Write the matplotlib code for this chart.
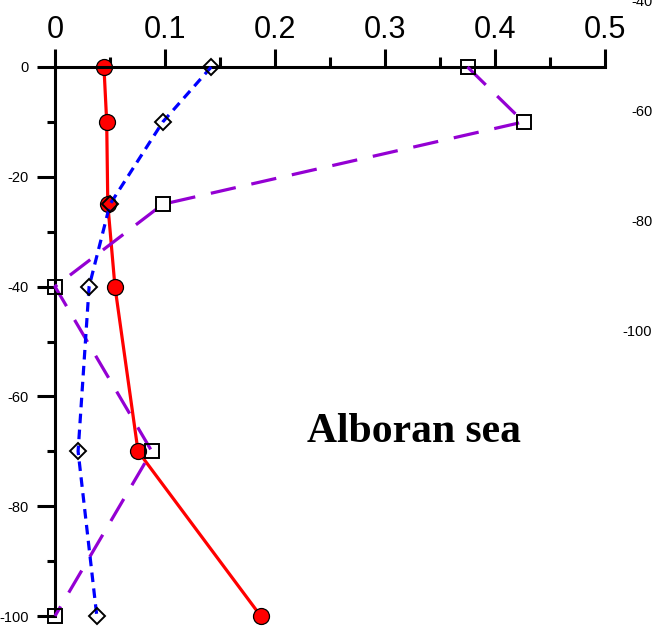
#!/usr/bin/env python3
"""Depth profiles for the Alboran sea station."""

import matplotlib

matplotlib.use("Agg")
import matplotlib.pyplot as plt
from matplotlib.ticker import MultipleLocator

plt.rcParams["font.family"] = ["Liberation Sans", "DejaVu Sans"]
plt.rcParams["axes.unicode_minus"] = False

DEPTH = [0, -10, -25, -40, -70, -100]
RED_VALUES = [0.0445, 0.047, 0.048, 0.0545, 0.0755, 0.187]
BLUE_VALUES = [0.142, 0.098, 0.050, 0.031, 0.021, 0.038]
PURPLE_VALUES = [0.375, 0.426, 0.098, 0.0, 0.088, 0.0]

X_TICKS = [0, 0.1, 0.2, 0.3, 0.4, 0.5]
X_LABELS = ["0", "0.1", "0.2", "0.3", "0.4", "0.5"]
Y_TICKS = [0, -20, -40, -60, -80, -100]
RIGHT_TICKS = [-40, -60, -80, -100]

W, H = 658, 628


def main() -> None:
    fig = plt.figure(figsize=(W / 100, H / 100), dpi=100)
    ax = fig.add_axes([55 / W, 1 - 616 / H, 550 / W, 549 / H])

    lw = 2.3
    ax.plot(PURPLE_VALUES, DEPTH, color="#9400d3", lw=lw, dashes=(8, 5),
            marker="s", ms=10, mfc="none", mec="black", mew=1.4, clip_on=False, zorder=3)
    ax.plot(BLUE_VALUES, DEPTH, color="#0000ff", lw=lw, dashes=(3, 2),
            marker="D", ms=8.5, mfc="none", mec="black", mew=1.4, clip_on=False, zorder=4)
    ax.plot(RED_VALUES, DEPTH, color="#ff0000", lw=lw, marker="o", ms=11.5,
            mfc="#ff0000", mec="black", mew=0.9, clip_on=False, zorder=2)

    ax.set_xlim(0, 0.5)
    ax.set_ylim(-100, 0)
    for side in ("right", "bottom"):
        ax.spines[side].set_visible(False)
    ax.spines["top"].set_position(("data", 0))
    for side in ("top", "left"):
        ax.spines[side].set_linewidth(2.2)

    ax.xaxis.set_ticks_position("top")
    ax.set_xticks(X_TICKS)
    ax.set_xticklabels(X_LABELS)
    ax.xaxis.set_minor_locator(MultipleLocator(0.05))
    ax.set_yticks(Y_TICKS)
    ax.yaxis.set_minor_locator(MultipleLocator(10))
    ax.tick_params(axis="x", which="major", direction="out", length=13, width=2.2,
                   labelsize=22, pad=3)
    ax.tick_params(axis="x", which="minor", direction="out", length=7, width=2.2)
    ax.tick_params(axis="y", which="major", direction="out", length=13, width=2.2,
                   labelsize=10.5, pad=6)
    ax.tick_params(axis="y", which="minor", direction="out", length=6, width=2.2)

    ax.text(0.652, 0.335, "Alboran sea", transform=ax.transAxes, ha="center",
            va="center", fontsize=30, fontweight="bold",
            family=["Liberation Serif", "DejaVu Serif"])

    # secondary depth labels drawn on the right edge
    rax = fig.add_axes([655 / W, 1 - 330 / H, 0.001, 330 / H])
    rax.set_ylim(-100, -40)
    rax.set_yticks(RIGHT_TICKS)
    rax.set_xticks([])
    rax.tick_params(axis="y", length=0, labelsize=10.5, pad=2)
    for spine in rax.spines.values():
        spine.set_visible(False)
    rax.patch.set_visible(False)

    fig.savefig("out.png", dpi=100)
    plt.close(fig)


if __name__ == "__main__":
    main()
